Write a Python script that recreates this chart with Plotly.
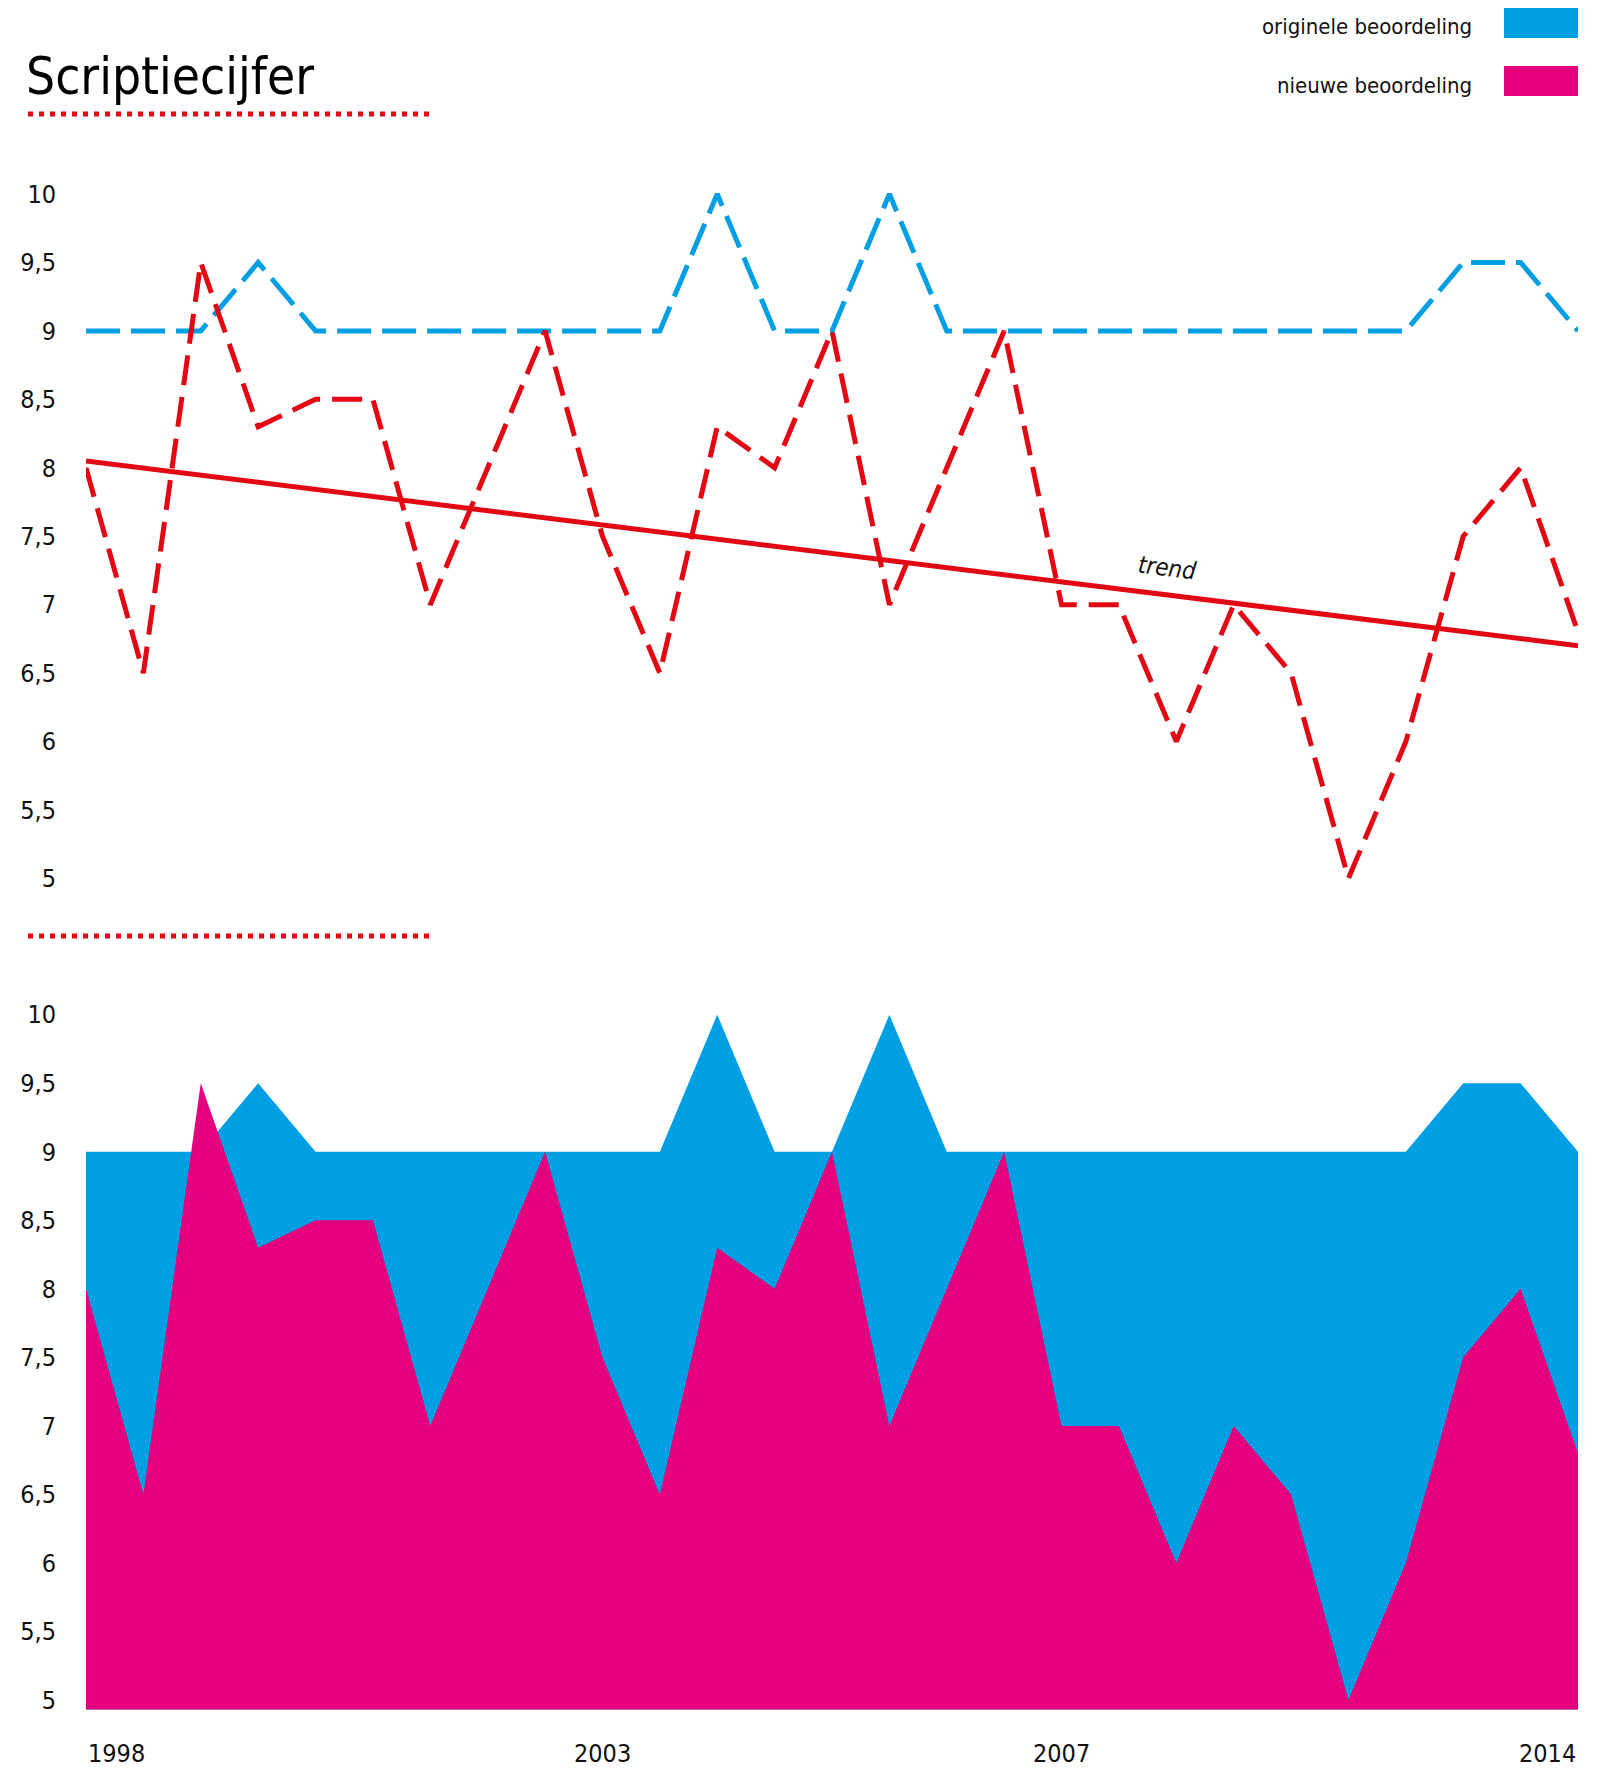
import plotly.graph_objects as go

# ---------------- data ----------------
idx = list(range(27))
originele = [9, 9, 9, 9.5, 9, 9, 9, 9, 9, 9, 9, 10, 9, 9, 10, 9, 9, 9, 9, 9, 9, 9, 9, 9, 9.5, 9.5, 9]
nieuwe = [8, 6.5, 9.5, 8.3, 8.5, 8.5, 7, 8, 9, 7.5, 6.5, 8.3, 8, 9, 7, 8, 9, 7, 7, 6, 7, 6.5, 5, 6, 7.5, 8, 6.8]
trend_x = [0, 26]
trend_y = [8.05, 6.7]
y_tickvals = [5, 5.5, 6, 6.5, 7, 7.5, 8, 8.5, 9, 9.5, 10]
y_ticktext = ["5", "5,5", "6", "6,5", "7", "7,5", "8", "8,5", "9", "9,5", "10"]
x_tick_pos = [0, 9, 17, 26]
x_tick_labels = ["1998", "2003", "2007", "2014"]

BLUE = "#009FE3"
PINK = "#E5007D"
RED = "#E30613"
FONT = "DejaVu Sans Condensed, Liberation Sans, sans-serif"

W, H = 1615, 1768


def px_x(p):
    return p / W


def px_y(p):
    return 1 - p / H


fig = go.Figure()

# top chart
fig.add_trace(go.Scatter(x=idx, y=originele, mode="lines", xaxis="x", yaxis="y",
                         line=dict(color=BLUE, width=5, dash="34px,11px"), showlegend=False))
fig.add_trace(go.Scatter(x=idx, y=nieuwe, mode="lines", xaxis="x", yaxis="y",
                         line=dict(color=RED, width=5, dash="30px,12px"), showlegend=False))
fig.add_trace(go.Scatter(x=trend_x, y=trend_y, mode="lines", xaxis="x", yaxis="y",
                         line=dict(color=RED, width=5), showlegend=False))

# bottom chart
fig.add_trace(go.Scatter(x=idx, y=originele, mode="lines", xaxis="x2", yaxis="y2",
                         fill="tozeroy", fillcolor=BLUE, line=dict(width=0, color=BLUE),
                         showlegend=False))
fig.add_trace(go.Scatter(x=idx, y=nieuwe, mode="lines", xaxis="x2", yaxis="y2",
                         fill="tozeroy", fillcolor=PINK, line=dict(width=0, color=PINK),
                         showlegend=False))

xdom = [px_x(86), px_x(1578)]
yax_common = dict(tickvals=y_tickvals, ticktext=y_ticktext, showgrid=False, zeroline=False,
                  showline=False, ticks="", ticklabelstandoff=29,
                  tickfont=dict(family=FONT, size=25, color="#111"), automargin=False)
xax_common = dict(range=[0, 26], showgrid=False, zeroline=False, showline=False,
                  showticklabels=False, ticks="", automargin=False)

fig.update_layout(
    width=W, height=H,
    margin=dict(l=0, r=0, t=0, b=0),
    paper_bgcolor="white", plot_bgcolor="white",
    xaxis=dict(domain=xdom, anchor="y", **xax_common),
    yaxis=dict(domain=[px_y(899), px_y(173.5)], range=[4.85, 10.15], anchor="x", **yax_common),
    xaxis2=dict(domain=xdom, anchor="y2", **xax_common),
    yaxis2=dict(domain=[px_y(1709.6), px_y(1001)], range=[4.93, 10.1], anchor="x2", **yax_common),
    hovermode=False,
)

annotations = []
# title
annotations.append(dict(text="Scriptiecijfer", xref="paper", yref="paper", x=px_x(24), y=px_y(77),
                        xanchor="left", yanchor="middle", showarrow=False,
                        font=dict(family=FONT, size=51, color="#000")))
# legend
leg = [("originele beoordeling", BLUE, 8, 38), ("nieuwe beoordeling", PINK, 66, 96)]
shapes = []
for label, col, y0, y1 in leg:
    annotations.append(dict(text=label, xref="paper", yref="paper", x=px_x(1474), y=px_y((y0 + y1) / 2 + 4),
                            xanchor="right", yanchor="middle", showarrow=False,
                            font=dict(family=FONT, size=22, color="#111")))
    shapes.append(dict(type="rect", xref="paper", yref="paper", x0=px_x(1504), x1=px_x(1578),
                       y0=px_y(y1), y1=px_y(y0), fillcolor=col, line=dict(width=0)))
# trend label
annotations.append(dict(text="<i>trend</i>", xref="x", yref="y", x=18.83, y=7.27, showarrow=False,
                        textangle=7, xanchor="center", yanchor="middle",
                        font=dict(family=FONT, size=24, color="#111")))
# x tick labels
anchors = ["left", "center", "center", "right"]
for pos, lab, an in zip(x_tick_pos, x_tick_labels, anchors):
    annotations.append(dict(text=lab, xref="x2", yref="paper", x=pos, y=px_y(1753), showarrow=False,
                            xanchor=an, yanchor="middle",
                            font=dict(family=FONT, size=25, color="#111")))
# dotted separators
for yy in [114, 936]:
    shapes.append(dict(type="line", xref="paper", yref="paper", x0=px_x(28), x1=px_x(430),
                       y0=px_y(yy), y1=px_y(yy), line=dict(color=RED, width=5, dash="5px,6px")))

fig.update_layout(annotations=annotations, shapes=shapes)

fig.write_html("out.html", config={"displayModeBar": False, "staticPlot": True},
               post_script="document.body.style.margin='0px';document.body.style.overflow='hidden';")
